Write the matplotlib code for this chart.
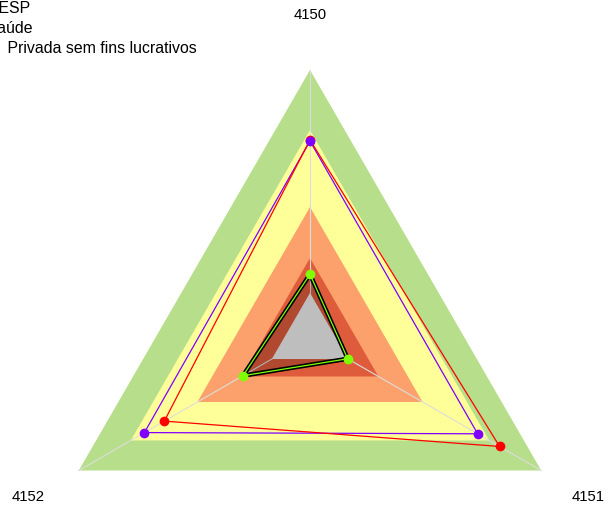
import numpy as np
import matplotlib
matplotlib.use("Agg")
import matplotlib.pyplot as plt

plt.rcParams['font.family'] = ['Liberation Sans', 'DejaVu Sans']

# axis categories (clockwise from top)
categories = ["4150", "4151", "4152"]
angles_deg = [90, -30, 210]

# background bands (fraction of full radius), outer to inner
band_levels = [1.0, 0.775, 0.487, 0.296, 0.165]
band_colors = ['#b7de8a', '#ffff99', '#fca16b', '#de5c3c', '#bebebe']

# series
series_names = ["Pública ESP", "Pública Saúde",
                "Entidade\u2003Privada sem fins lucrativos"]
series_green = [0.235, 0.163, 0.290]
series_purple = [0.734, 0.725, 0.716]
series_red = [0.738, 0.820, 0.630]

theta = np.deg2rad(angles_deg)


def to_xy(vals):
    v = np.asarray(vals)
    x = v * np.cos(theta)
    y = v * np.sin(theta)
    return np.append(x, x[0]), np.append(y, y[0])


fig = plt.figure(figsize=(6.08, 5.09), dpi=100)
ax = fig.add_axes([0, 0, 1, 1])
R = 267.0
ax.set_xlim(-310 / R, 298 / R)
ax.set_ylim(-172 / R, 337 / R)
ax.axis('off')

# bands (gray drawn above the series fill)
for lev, col in zip(band_levels, band_colors):
    x, y = to_xy([lev] * 3)
    z = 3 if col == '#bebebe' else 1
    ax.fill(x, y, color=col, lw=0, zorder=z)

# spokes
for t in theta:
    ax.plot([0, np.cos(t)], [0, np.sin(t)], color='#dcdcdc', lw=0.8, zorder=2)

# green series: filled, black outline with green core
x, y = to_xy(series_green)
ax.fill(x, y, color='black', alpha=0.2, lw=0, zorder=2)
ax.plot(x, y, color='black', lw=3.2, zorder=4)
ax.plot(x, y, color='#7fff00', lw=0.9, zorder=5)
ax.plot(x[:-1], y[:-1], 'o', color='#7fff00', ms=7, mec='none', zorder=6)

# purple series
x, y = to_xy(series_purple)
ax.plot(x, y, color='#8000ff', lw=0.9, zorder=4)
ax.plot(x[:-1], y[:-1], 'o', color='#8000ff', ms=7, mec='none', zorder=7)

# red series
x, y = to_xy(series_red)
ax.plot(x, y, color='#ff0000', lw=0.9, zorder=4)
ax.plot(x[:-1], y[:-1], 'o', color='#ff0000', ms=7, mec='none', zorder=6)

# axis labels
ax.text(0, 322 / R, categories[0], ha='center', va='center', fontsize=10.7)
ax.text(278 / R, -160 / R, categories[1], ha='center', va='center', fontsize=10.7)
ax.text(-282 / R, -160 / R, categories[2], ha='center', va='center', fontsize=10.7)

# legend text (cut off at the left edge, as in the original)
W, H = 608.0, 509.0
leg_right = [30, 33, 197]
leg_base = [13, 33, 53]
for name, xr, yb in zip(series_names, leg_right, leg_base):
    fig.text(xr / W, 1 - yb / H, name, ha='right', va='baseline', fontsize=11.4)

fig.savefig("out.png", dpi=100)
